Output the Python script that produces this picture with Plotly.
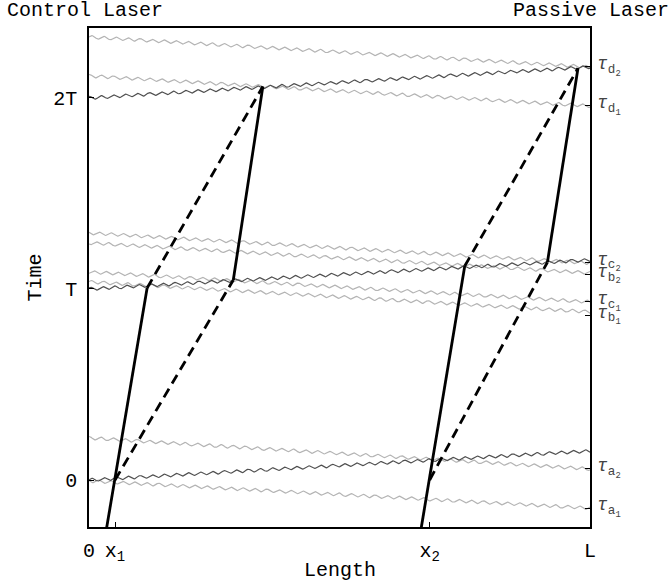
import numpy as np
import plotly.graph_objects as go

# ---- data (x in units of L, t in units of T) ----
x_tick_vals = [0.0, 0.052, 0.68, 1.0]
x_tick_text = ["0", "x<sub>1</sub>", "x<sub>2</sub>", "L"]
y_tick_vals = [0.0, 1.0, 2.0]
y_tick_text = ["0", "T", "2T"]

tau_vals = [2.162, 1.958, 1.140, 1.075, 0.932, 0.862, 0.058, -0.147]
tau_text = ["<i>τ</i><sub>d<sub>2</sub></sub>", "<i>τ</i><sub>d<sub>1</sub></sub>",
            "<i>τ</i><sub>c<sub>2</sub></sub>", "<i>τ</i><sub>b<sub>2</sub></sub>",
            "<i>τ</i><sub>c<sub>1</sub></sub>", "<i>τ</i><sub>b<sub>1</sub></sub>",
            "<i>τ</i><sub>a<sub>2</sub></sub>", "<i>τ</i><sub>a<sub>1</sub></sub>"]

# wavy pulses: time at x=0 and time at x=L
passive_t_left = [2.319, 2.115, 1.293, 1.241, 1.089, 1.037, 0.220, -0.005]
passive_t_right = [2.162, 1.958, 1.136, 1.084, 0.932, 0.880, 0.058, -0.147]
control_t_left = [0.0, 1.0, 2.0]
control_t_right = [0.152, 1.152, 2.162]

# black trajectories
solid_paths = [
    ([0.032, 0.116], [-0.30, 1.005]),
    ([0.288, 0.347], [1.047, 2.06]),
    ([0.660, 0.750], [-0.30, 1.12]),
    ([0.915, 0.976], [1.14, 2.155]),
]
dashed_paths = [
    ([0.052, 0.288], [0.0, 1.047]),
    ([0.116, 0.347], [1.005, 2.06]),
    ([0.680, 0.915], [0.0, 1.14]),
    ([0.750, 0.976], [1.12, 2.155]),
]

FONT = "Liberation Mono, Courier New, monospace"
fig = go.Figure()

# wiggle style for the pulse lines
xs = np.linspace(0, 1, 700)
amp = 0.008
wl = 0.024


def wavy(t0, t1, color, phase):
    ys = t0 + (t1 - t0) * xs + amp * np.sin(2 * np.pi * xs / wl + phase)
    fig.add_trace(go.Scatter(x=xs, y=ys, mode="lines",
                             line=dict(color=color, width=1.2),
                             hoverinfo="skip", showlegend=False))


for i, (a, b) in enumerate(zip(passive_t_left, passive_t_right)):
    wavy(a, b, "#b4b4b4", i * 1.3)
for i, (a, b) in enumerate(zip(control_t_left, control_t_right)):
    wavy(a, b, "#505050", i * 0.7)

for px, pt in solid_paths:
    fig.add_trace(go.Scatter(x=px, y=pt, mode="lines",
                             line=dict(color="black", width=2.8),
                             showlegend=False))
for px, pt in dashed_paths:
    fig.add_trace(go.Scatter(x=px, y=pt, mode="lines",
                             line=dict(color="black", width=2.8, dash="10px,6px"),
                             showlegend=False))

# invisible trace for right axis
fig.add_trace(go.Scatter(x=[0.5], y=[1.0], yaxis="y2", mode="markers",
                         marker=dict(opacity=0), showlegend=False, hoverinfo="skip"))

yr = [-0.246, 2.366]
fig.update_layout(
    width=672, height=586,
    margin=dict(l=89, r=82, t=28, b=59),
    paper_bgcolor="white", plot_bgcolor="white",
    font=dict(family=FONT, size=20, color="black"),
    xaxis=dict(range=[0, 1], tickvals=x_tick_vals, ticktext=x_tick_text,
               ticks="inside", ticklen=5, tickcolor="black", showgrid=False,
               zeroline=False, showline=True, linecolor="black", linewidth=1.5,
               mirror=True, tickfont=dict(size=20), ticklabelstandoff=4),
    yaxis=dict(range=yr, tickvals=y_tick_vals, ticktext=y_tick_text,
               ticks="inside", ticklen=5, tickcolor="black", showgrid=False,
               zeroline=False, showline=True, linecolor="black", linewidth=1.5,
               mirror=True, tickfont=dict(size=20), ticklabelstandoff=6),
    yaxis2=dict(range=yr, overlaying="y", side="right", tickvals=tau_vals,
                ticktext=tau_text, ticks="inside", ticklen=5, tickcolor="black",
                showgrid=False, zeroline=False, showline=False,
                tickfont=dict(size=18, color="#444"), ticklabelstandoff=6,
                ticklabelshift=-4),
)

fig.add_annotation(text="Control Laser", xref="paper", yref="paper", x=0, y=1,
                   xanchor="left", yanchor="middle", xshift=-84, yshift=18,
                   showarrow=False, font=dict(size=20))
fig.add_annotation(text="Passive Laser", xref="paper", yref="paper", x=1, y=1,
                   xanchor="right", yanchor="middle", xshift=81, yshift=18,
                   showarrow=False, font=dict(size=20))
fig.add_annotation(text="Time", xref="paper", yref="paper", x=0, y=0.5,
                   xanchor="center", yanchor="middle", xshift=-54, textangle=-90,
                   showarrow=False, font=dict(size=20))
fig.add_annotation(text="Length", xref="paper", yref="paper", x=0.5, y=0,
                   xanchor="center", yanchor="middle", yshift=-43,
                   showarrow=False, font=dict(size=20))

fig.write_html("out.html", config={"displayModeBar": False},
               post_script="document.body.style.margin='0px';document.body.style.overflow='hidden';")
